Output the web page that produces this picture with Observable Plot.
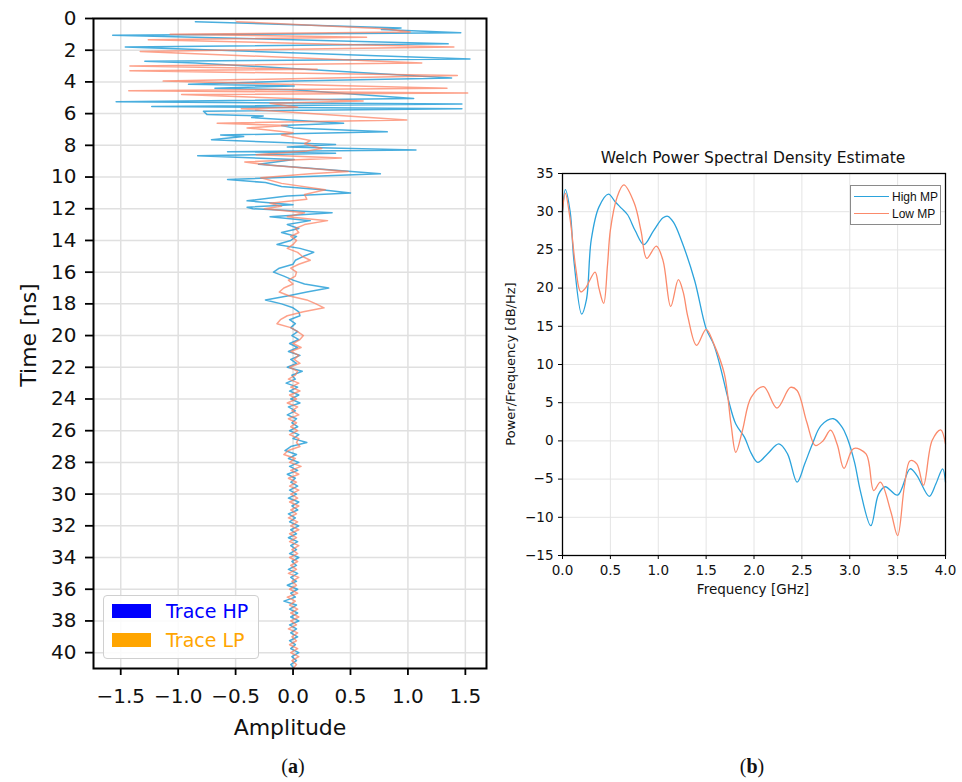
<!DOCTYPE html>
<html>
<head>
<meta charset="utf-8">
<script src="https://cdn.jsdelivr.net/npm/d3@7"></script>
<script src="https://cdn.jsdelivr.net/npm/@observablehq/plot@0.6"></script>
<style>
  html, body { margin: 0; padding: 0; background: #fff; }
  #page { position: relative; width: 962px; height: 782px; overflow: hidden; font-family: "DejaVu Sans", sans-serif; }
  .abs { position: absolute; }
  .lbl { position: absolute; white-space: nowrap; color: #111; }
  .cap { position: absolute; font-family: "Liberation Serif", serif; font-size: 20px; color: #111; transform: translate(-50%, -50%); }
</style>
</head>
<body>
<div id="page">
  <div id="left" class="abs" style="left:0;top:0"></div>
  <div id="right" class="abs" style="left:500px;top:140px"></div>

  <div class="lbl" style="left:28px;top:335px;font-size:22px;transform:translate(-50%,-50%) rotate(-90deg)">Time [ns]</div>
  <div class="lbl" style="left:290px;top:727px;font-size:22px;transform:translate(-50%,-50%)">Amplitude</div>
  <div class="cap" style="left:293px;top:766px">(<b>a</b>)</div>

  <div class="lbl" style="left:753px;top:158px;font-size:15.5px;transform:translate(-50%,-50%)">Welch Power Spectral Density Estimate</div>
  <div class="lbl" style="left:510px;top:364px;font-size:13px;transform:translate(-50%,-50%) rotate(-90deg)">Power/Frequency [dB/Hz]</div>
  <div class="lbl" style="left:753px;top:589px;font-size:13.5px;transform:translate(-50%,-50%)">Frequency [GHz]</div>
  <div class="cap" style="left:752px;top:766px">(<b>b</b>)</div>

  <!-- left legend -->
  <div class="abs" style="left:103px;top:595px;width:154px;height:62px;border:1px solid #d0d0d0;border-radius:4px;background:rgba(255,255,255,0.85)">
    <div class="abs" style="left:8px;top:8px;width:39px;height:14px;background:#0000ff"></div>
    <div class="lbl" style="left:62px;top:15px;font-size:19px;color:#0000ff;transform:translateY(-50%)">Trace HP</div>
    <div class="abs" style="left:8px;top:37px;width:39px;height:14px;background:#ffa500"></div>
    <div class="lbl" style="left:62px;top:44px;font-size:19px;color:#ffa500;transform:translateY(-50%)">Trace LP</div>
  </div>

  <!-- right legend -->
  <div class="abs" style="left:850px;top:185px;width:89px;height:38px;border:1px solid #8a8a8a;background:#fff">
    <div class="abs" style="left:3px;top:10px;width:35px;height:0;border-top:1.3px solid #2ba3dc"></div>
    <div class="lbl" style="left:41px;top:11px;font-size:12px;font-family:'Liberation Sans Narrow','Liberation Sans',sans-serif;font-stretch:condensed;transform:translateY(-50%)">High MP</div>
    <div class="abs" style="left:3px;top:27px;width:35px;height:0;border-top:1.3px solid #fb8a6b"></div>
    <div class="lbl" style="left:41px;top:28px;font-size:12px;font-family:'Liberation Sans Narrow','Liberation Sans',sans-serif;font-stretch:condensed;transform:translateY(-50%)">Low MP</div>
  </div>
</div>

<script>
// ---------- Panel (a): traces ----------
const ampTicks = [-1.5, -1.0, -0.5, 0.0, 0.5, 1.0, 1.5];
const timeTicks = [0, 2, 4, 6, 8, 10, 12, 14, 16, 18, 20, 22, 24, 26, 28, 30, 32, 34, 36, 38, 40];

// early part (irregular read-off points), time [ns] and amplitude
const hpHeadTime = [0.2,0.6,0.7,0.9,1.05,1.6,1.8,2.55,2.7,2.8,3.75,3.95,4.15,4.25,4.4,4.5,5.05,5.25,5.4,5.55,5.7,5.85,6.05,6.15,6.25,6.6,6.75,6.9,7.15,7.35,7.45,7.65,7.95,8.1,8.3,8.4,8.5,8.65,8.9,9.2,9.8,10.15,10.35,10.6,10.8,11.0,11.2,11.5,11.75,11.9];
const hpHeadAmp  = [-0.85,0.94,0.77,1.46,-1.57,1.35,-1.46,1.54,-1.29,-0.85,1.38,0.0,-0.91,0.01,-0.68,0.0,1.05,-1.54,1.47,-1.23,1.47,-0.78,-0.75,-0.26,-0.36,0.44,-0.1,0.0,0.82,-0.63,-0.43,-0.71,0.37,-0.05,1.07,-0.57,0.37,-0.83,0.01,-0.3,0.76,-0.57,-0.24,-0.1,0.25,0.5,-0.05,-0.4,0.0,-0.4];
const lpHeadTime = [0.2,0.65,0.85,1.0,1.18,1.34,1.65,1.8,2.08,2.8,3.0,3.2,3.3,3.6,3.95,4.4,4.56,4.7,4.8,5.2,5.35,5.6,5.7,6.4,6.6,6.75,6.9,7.2,7.35,7.7,7.9,8.2,8.35,8.6,8.8,9.05,9.25,9.65,9.8,10.05,10.4,10.8,11.1,11.4,11.65,11.85];
const lpHeadAmp  = [-0.49,0.8,1.02,-1.07,0.64,-1.26,0.54,1.4,-1.33,1.12,-1.42,0.21,-1.42,1.43,-1.13,1.34,-1.43,1.52,-0.97,0.61,-0.2,0.04,-0.45,0.99,-0.66,-0.05,-0.4,0.0,-0.1,0.15,0.1,0.25,0.12,-0.32,0.42,-0.42,-0.2,0.48,0.15,-0.28,-0.1,0.28,0.1,0.12,-0.2,-0.1];

// later part, sampled every 0.25 ns
const tailTime = [12,12.25,12.5,12.75,13,13.25,13.5,13.75,14,14.25,14.5,14.75,15,15.25,15.5,15.75,16,16.25,16.5,16.75,17,17.25,17.5,17.75,18,18.25,18.5,18.75,19,19.25,19.5,19.75,20,20.25,20.5,20.75,21,21.25,21.5,21.75,22,22.25,22.5,22.75,23,23.25,23.5,23.75,24,24.25,24.5,24.75,25,25.25,25.5,25.75,26,26.25,26.5,26.75,27,27.25,27.5,27.75,28,28.25,28.5,28.75,29,29.25,29.5,29.75,30,30.25,30.5,30.75,31,31.25,31.5,31.75,32,32.25,32.5,32.75,33,33.25,33.5,33.75,34,34.25,34.5,34.75,35,35.25,35.5,35.75,36,36.25,36.5,36.75,37,37.25,37.5,37.75,38,38.25,38.5,38.75,39,39.25,39.5,39.75,40,40.25,40.5,40.75,41];
const hpTailAmp = [-0.35,0.34,-0.2,0.15,-0.05,0.05,-0.1,0.03,-0.02,
  -0.14,0.06,0.18,0.09,0.02,0.0,-0.12,-0.17,
  -0.08,0.0,0.1,0.31,0.12,-0.05,-0.24,-0.1,
  0.0,0.05,0.06,-0.03,0.02,-0.02,0.04,-0.01,
  0.05,-0.03,0.04,-0.04,0.06,-0.02,0.03,-0.05,
  0.08,-0.01,0.02,-0.06,0.04,-0.03,0.05,-0.02,
  0.06,-0.04,0.02,-0.05,0.03,-0.01,0.04,-0.03,
  0.05,0.0,0.12,-0.02,-0.07,0.03,-0.04,0.05,
  -0.03,0.04,-0.05,0.02,-0.02,0.04,-0.03,0.03,
  -0.04,0.05,-0.01,0.04,-0.04,0.02,-0.03,0.05,
  -0.02,0.03,-0.04,0.04,-0.02,0.03,-0.03,0.05,
  -0.01,0.03,-0.04,0.04,-0.02,0.03,-0.05,0.04,
  -0.02,0.02,-0.08,0.03,-0.03,0.04,-0.02,0.05,
  -0.03,0.03,-0.02,0.04,-0.03,0.02,-0.02,0.05,
  -0.01,0.03,-0.02,0.01];
const lpTailAmp = [-0.25,0.1,-0.05,0.3,0.1,0.02,0.05,-0.02,0.03,
  0.0,-0.05,0.04,0.08,0.15,0.05,-0.02,0.03,
  0.02,-0.04,0.0,-0.08,-0.12,-0.03,0.12,0.2,
  0.27,0.09,-0.05,-0.11,-0.14,-0.02,0.04,0.09,
  0.06,0.0,0.07,-0.02,0.05,0.01,0.06,-0.03,
  0.04,0.02,-0.04,0.05,-0.02,0.06,-0.03,0.03,
  -0.05,0.04,-0.01,0.05,-0.04,0.03,-0.02,0.04,
  -0.03,0.05,0.03,0.06,-0.04,-0.08,0.02,-0.03,
  0.07,-0.02,0.05,-0.04,0.03,-0.03,0.05,-0.02,
  0.04,-0.03,0.05,-0.02,0.03,-0.04,0.04,-0.02,
  0.05,-0.03,0.03,-0.03,0.05,-0.01,0.04,-0.03,
  0.04,-0.02,0.03,-0.04,0.05,-0.01,0.03,-0.03,
  0.04,-0.05,0.02,-0.03,0.04,-0.02,0.05,-0.02,
  0.03,-0.04,0.04,-0.01,0.03,-0.03,0.04,-0.02,
  0.05,-0.01,0.03,0.0];

// ---------- Panel (b): Welch PSD ----------
const freqTicks = [0, 0.5, 1.0, 1.5, 2.0, 2.5, 3.0, 3.5, 4.0];
const powTicks = [-15, -10, -5, 0, 5, 10, 15, 20, 25, 30, 35];
const highFreq = [0.0,0.03,0.08,0.12,0.2,0.25,0.3,0.38,0.48,0.55,0.62,0.68,0.76,0.85,0.95,1.05,1.1,1.16,1.24,1.38,1.5,1.58,1.65,1.73,1.81,1.9,1.97,2.04,2.14,2.26,2.35,2.45,2.53,2.61,2.7,2.83,2.92,2.97,3.05,3.11,3.22,3.3,3.37,3.5,3.63,3.7,3.83,3.9,3.97,4.0];
const highPow  = [30.0,32.9,30.0,23.5,16.6,18.5,26.3,30.6,32.3,31.3,30.4,29.6,27.5,25.7,27.5,29.2,29.4,28.6,26.3,21.0,14.7,12.6,9.6,5.5,2.2,0.5,-1.6,-2.8,-1.7,-0.4,-1.7,-5.4,-3.0,-0.4,2.0,2.9,1.8,0.5,-2.8,-6.5,-11.1,-7.0,-6.0,-7.1,-3.65,-4.5,-7.25,-5.6,-3.65,-5.4];
const lowFreq = [0.0,0.03,0.08,0.14,0.19,0.24,0.34,0.38,0.43,0.47,0.5,0.57,0.64,0.75,0.82,0.88,0.98,1.05,1.13,1.21,1.26,1.31,1.4,1.5,1.58,1.69,1.76,1.81,1.88,1.97,2.1,2.24,2.38,2.45,2.55,2.64,2.72,2.8,2.87,2.94,3.04,3.17,3.25,3.32,3.43,3.5,3.57,3.63,3.7,3.77,3.86,3.95,4.0];
const lowPow  = [30.1,32.4,29.0,22.5,19.5,20.0,22.1,20.0,18.0,23.0,27.6,31.9,33.5,31.1,27.5,23.9,25.5,23.6,17.6,21.1,19.5,16.2,12.5,14.6,12.7,8.8,2.2,-1.5,1.4,5.7,7.1,4.3,7.0,6.6,2.5,-0.6,0.0,1.4,-0.5,-3.6,-1.0,-1.7,-6.5,-5.4,-9.3,-12.4,-6.0,-2.6,-3.0,-5.8,0.05,1.45,-0.4];

// ---------- build tables ----------
const zipTA = (t, a) => t.map((v, i) => ({t: v, a: a[i]})).filter(d => d.a !== undefined);
const hpData = zipTA(hpHeadTime.concat(tailTime), hpHeadAmp.concat(hpTailAmp));
const lpData = zipTA(lpHeadTime.concat(tailTime), lpHeadAmp.concat(lpTailAmp));
const highData = highFreq.map((f, i) => ({f, p: highPow[i]}));
const lowData = lowFreq.map((f, i) => ({f, p: lowPow[i]}));

const minusFmt = d => (d < 0 ? "\u2212" : "") + Math.abs(d).toFixed(1);
const intFmt = d => (d < 0 ? "\u2212" : "") + Math.abs(d);

const leftPlot = Plot.plot({
  width: 500, height: 740,
  marginLeft: 93, marginTop: 18, marginRight: 14, marginBottom: 72,
  x: {domain: [-1.737, 1.684]},
  y: {domain: [0, 41], reverse: true},
  style: {fontFamily: "DejaVu Sans", background: "transparent", color: "#111", overflow: "visible"},
  marks: [
    Plot.gridX(ampTicks, {stroke: "#e0e0e0", strokeOpacity: 1, strokeWidth: 1.5}),
    Plot.gridY(timeTicks, {stroke: "#e0e0e0", strokeOpacity: 1, strokeWidth: 1.5}),
    Plot.line(hpData, {x: "a", y: "t", stroke: "#1b9ad6", strokeWidth: 1.5, strokeOpacity: 0.8}),
    Plot.line(lpData, {x: "a", y: "t", stroke: "#fc7b5a", strokeWidth: 1.5, strokeOpacity: 0.7}),
    Plot.frame({stroke: "#000", strokeWidth: 2}),
    Plot.axisX(ampTicks, {tickSize: 7, tickPadding: 13, fontSize: 20, tickFormat: minusFmt, label: null, strokeWidth: 1.8, stroke: "#000"}),
    Plot.axisY(timeTicks, {tickSize: 8, tickPadding: 9, fontSize: 20, tickFormat: intFmt, label: null, strokeWidth: 1.8, stroke: "#000"})
  ]
});
document.getElementById("left").appendChild(leftPlot);

const rightPlot = Plot.plot({
  width: 462, height: 480,
  marginLeft: 62, marginTop: 33, marginRight: 17, marginBottom: 65,
  x: {domain: [0, 4]},
  y: {domain: [-15, 35]},
  style: {fontFamily: "DejaVu Sans", background: "transparent", color: "#111", overflow: "visible"},
  marks: [
    Plot.gridX(freqTicks, {stroke: "#e4e4e4", strokeOpacity: 1, strokeWidth: 1}),
    Plot.gridY(powTicks, {stroke: "#e4e4e4", strokeOpacity: 1, strokeWidth: 1}),
    Plot.line(highData, {x: "f", y: "p", stroke: "#2ba3dc", strokeWidth: 1.3, curve: "catmull-rom"}),
    Plot.line(lowData, {x: "f", y: "p", stroke: "#fb8a6b", strokeWidth: 1.3, curve: "catmull-rom"}),
    Plot.frame({stroke: "#000", strokeWidth: 1.3}),
    Plot.axisX(freqTicks, {tickSize: 4, tickPadding: 6, fontSize: 13.5, tickFormat: d => d.toFixed(1), label: null, stroke: "#000"}),
    Plot.axisY(powTicks, {tickSize: 4, tickPadding: 5, fontSize: 13.5, tickFormat: intFmt, label: null, stroke: "#000"})
  ]
});
document.getElementById("right").appendChild(rightPlot);
</script>
</body>
</html>
